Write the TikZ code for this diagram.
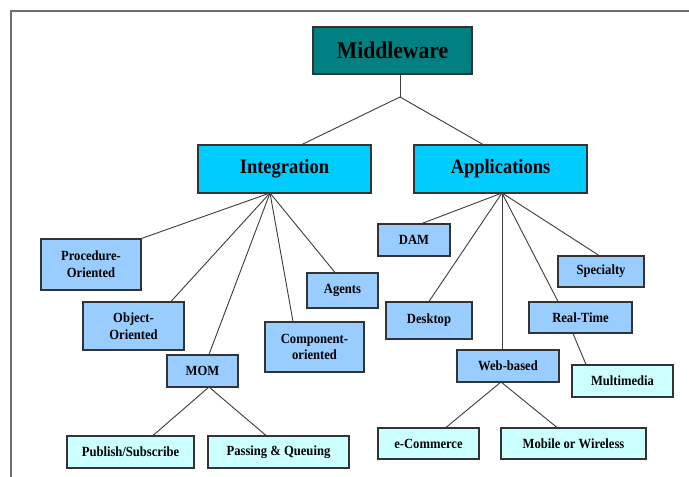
\documentclass[tikz,border=0pt]{standalone}
\usepackage{fontspec}
\newfontfamily\lblfont{Liberation Serif}[FakeStretch=0.9]
\usetikzlibrary{calc}
\definecolor{rootfill}{RGB}{0,128,128}
\definecolor{branchfill}{RGB}{0,204,255}
\definecolor{midfill}{RGB}{153,204,255}
\definecolor{leaffill}{RGB}{204,255,255}
\definecolor{framegray}{RGB}{110,110,110}
\definecolor{edgegray}{RGB}{60,60,60}
\begin{document}
\begin{tikzpicture}[x=1pt,y=-1pt,
  box/.style={draw=black!80, line width=1.1pt, inner sep=0pt, align=center,
    font=\lblfont\bfseries\fontsize{14}{16.8}\selectfont},
  rootbox/.style={box, fill=rootfill, font=\lblfont\bfseries\fontsize{24}{28}\selectfont},
  branchbox/.style={box, fill=branchfill, font=\lblfont\bfseries\fontsize{20.5}{24}\selectfont},
  midbox/.style={box, fill=midfill},
  leafbox/.style={box, fill=leaffill},
  link/.style={draw=edgegray, line width=0.9pt},
  sz/.style 2 args={minimum width=#1pt, minimum height=#2pt}]
\useasboundingbox (0,0) rectangle (689,477);
\fill[white] (0,0) rectangle (689,477);

% frame lines along the top and left
\draw[framegray, line width=1.8pt] (11,477) -- (11,11) -- (689,11);

% root and main branches
\node[rootbox, sz={159}{47}] (mw) at (392.5,50.5) {Middleware};
\node[branchbox, sz={173}{48}] (integ) at (284.5,169) {Integration};
\node[branchbox, sz={173}{48}] (app) at (500.5,169) {Applications};

\coordinate (top) at (400,97);
\coordinate (ihub) at (270,193);
\coordinate (ahub) at (502,193);

% integration subtree
\node[midbox, sz={100}{51}] (proc) at (91,264.5) {Procedure-\\Oriented};
\node[midbox, sz={101}{48}] (obj) at (133.5,326) {Object-\\Oriented};
\node[midbox, sz={71}{32}] (mom) at (202.5,371) {MOM};
\node[midbox, sz={99}{50}] (comp) at (314.5,347) {Component-\\oriented};
\node[midbox, sz={71}{35}] (agents) at (342.5,290.5) {Agents};
\node[leafbox, sz={127}{32}] (pub) at (130.5,452) {Publish/Subscribe};
\node[leafbox, sz={141}{32}] (pass) at (278.5,452) {Passing \& Queuing};
\coordinate (mhub) at (209,387);

% applications subtree
\node[midbox, sz={72}{32}] (dam) at (414,240) {DAM};
\node[midbox, sz={86}{37}] (desk) at (429,320.5) {Desktop};
\node[midbox, sz={102}{32}] (web) at (508,366) {Web-based};
\node[midbox, sz={103}{31}] (rt) at (580.5,317.5) {Real-Time};
\node[midbox, sz={86}{31}] (spec) at (601,271.5) {Specialty};
\node[leafbox, sz={101}{32}] (mm) at (622.5,381) {Multimedia};
\node[leafbox, sz={101}{31}] (ecom) at (428.5,443.5) {e-Commerce};
\node[leafbox, sz={145}{31}] (mob) at (573.5,443.5) {Mobile or Wireless};
\coordinate (whub) at (501,382);

% connectors
\draw[link] ([xshift=7.5pt]mw.south) -- (top);
\draw[link] (top) -- ([xshift=17.5pt]integ.north);
\draw[link] (top) -- ([xshift=-17.5pt]app.north);

\draw[link] (ihub) -- (proc.north east);
\draw[link] (ihub) -- ([xshift=37.5pt]obj.north);
\draw[link] (ihub) -- ([xshift=6.5pt]mom.north);
\draw[link] (ihub) -- ([xshift=-21.5pt]comp.north);
\draw[link] (ihub) -- ([xshift=-7.5pt]agents.north);
\draw[link] (mhub) -- ([xshift=22.5pt]pub.north);
\draw[link] (mhub) -- ([xshift=-12.5pt]pass.north);

\draw[link] (ahub) -- ([xshift=8pt]dam.north);
\draw[link] (ahub) -- (desk.north);
\draw[link] (ahub) -- (ahub |- web.north);
\draw[link] (ahub) -- ([xshift=-22.5pt]rt.north);
\draw[link] (ahub) -- ([xshift=-2pt]spec.north);
\draw[link] ([xshift=-7.5pt]rt.south) -- ([xshift=-36.5pt]mm.north);
\draw[link] (whub) -- ([xshift=17.5pt]ecom.north);
\draw[link] (whub) -- ([xshift=-16.5pt]mob.north);
\end{tikzpicture}
\end{document}
